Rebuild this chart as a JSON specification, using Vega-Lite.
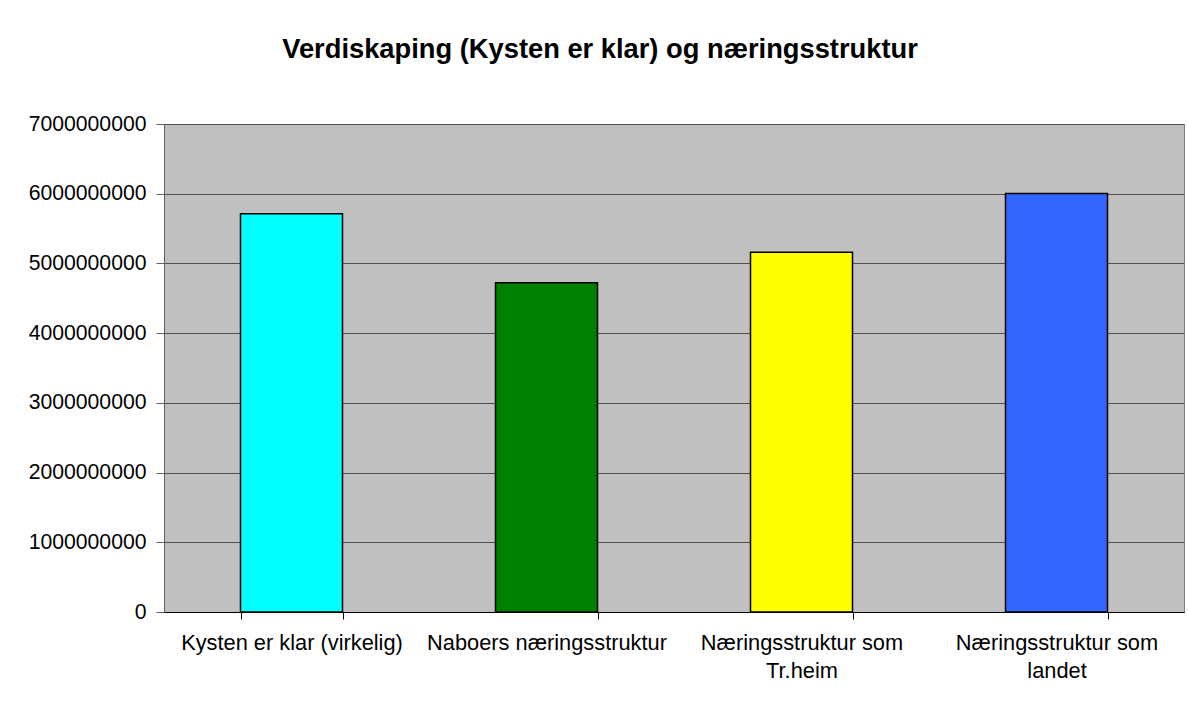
{
  "$schema": "https://vega.github.io/schema/vega-lite/v6.json",
  "autosize": {"type": "none"},
  "width": 1020,
  "height": 488,
  "padding": {"left": 164, "top": 124, "right": 4, "bottom": 90},
  "background": "white",
  "title": {
    "text": "Verdiskaping (Kysten er klar) og næringsstruktur",
    "font": "Liberation Sans",
    "fontSize": 27.3,
    "fontWeight": "bold",
    "color": "black",
    "anchor": "middle",
    "frame": "group",
    "baseline": "alphabetic",
    "dx": -74,
    "offset": 28
  },
  "config": {
    "view": {"fill": "#C0C0C0", "stroke": "#808080", "strokeWidth": 1},
    "font": "Liberation Sans"
  },
  "data": {
    "values": [
      {"kategori": "Kysten er klar (virkelig)", "verdi": 5713000000},
      {"kategori": "Naboers næringsstruktur", "verdi": 4723000000},
      {"kategori": "Næringsstruktur som Tr.heim", "verdi": 5162000000},
      {"kategori": "Næringsstruktur som landet", "verdi": 6004000000}
    ]
  },
  "mark": {"type": "bar", "stroke": "black", "strokeWidth": 1.5},
  "encoding": {
    "x": {
      "field": "kategori",
      "type": "nominal",
      "sort": null,
      "scale": {"paddingInner": 0.6, "paddingOuter": 0.3},
      "axis": {
        "title": null,
        "labelAngle": 0,
        "labelFontSize": 21.8,
        "labelColor": "black",
        "labelFont": "Liberation Sans",
        "labelPadding": 13,
        "labelLineHeight": 28,
        "labelBaseline": "top",
        "labelLimit": 400,
        "tickBand": "extent",
        "tickSize": 7,
        "tickColor": "black",
        "domainColor": "black",
        "labelExpr": "datum.value == 'Næringsstruktur som Tr.heim' ? ['Næringsstruktur som', 'Tr.heim'] : datum.value == 'Næringsstruktur som landet' ? ['Næringsstruktur som', 'landet'] : datum.label"
      }
    },
    "y": {
      "field": "verdi",
      "type": "quantitative",
      "scale": {"domain": [0, 7000000000], "nice": false},
      "axis": {
        "title": null,
        "values": [0, 1000000000, 2000000000, 3000000000, 4000000000, 5000000000, 6000000000, 7000000000],
        "format": "d",
        "labelFontSize": 21.2,
        "labelColor": "black",
        "labelFont": "Liberation Sans",
        "labelPadding": 10,
        "tickSize": 8,
        "tickColor": "#606060",
        "domainColor": "#606060",
        "grid": true,
        "gridColor": "#505050",
        "gridWidth": 1.2
      }
    },
    "fill": {
      "field": "kategori",
      "type": "nominal",
      "sort": null,
      "scale": {
        "domain": ["Kysten er klar (virkelig)", "Naboers næringsstruktur", "Næringsstruktur som Tr.heim", "Næringsstruktur som landet"],
        "range": ["#00FFFF", "#008000", "#FFFF00", "#3366FF"]
      },
      "legend": null
    }
  }
}
